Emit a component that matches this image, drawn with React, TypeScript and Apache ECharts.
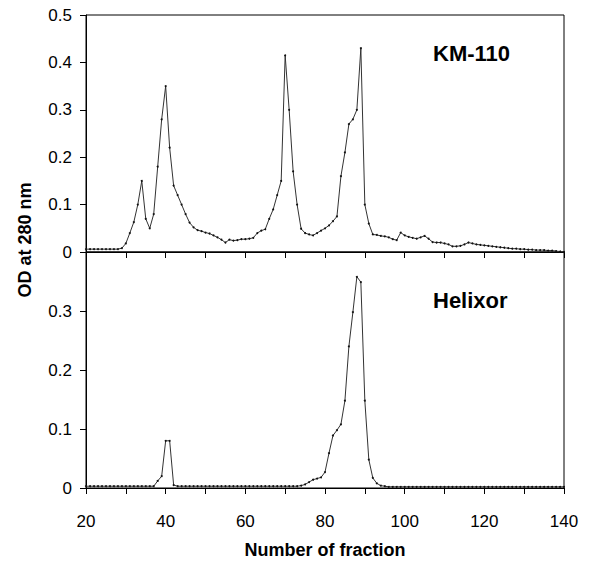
import React, { useEffect, useRef } from "react";
import * as echarts from "echarts";

const fractions = [
  20, 21, 22, 23, 24, 25, 26, 27, 28, 29, 30, 31, 32, 33, 34, 35, 36, 37, 38, 39,
  40, 41, 42, 43, 44, 45, 46, 47, 48, 49, 50, 51, 52, 53, 54, 55, 56, 57, 58, 59,
  60, 61, 62, 63, 64, 65, 66, 67, 68, 69, 70, 71, 72, 73, 74, 75, 76, 77, 78, 79,
  80, 81, 82, 83, 84, 85, 86, 87, 88, 89, 90, 91, 92, 93, 94, 95, 96, 97, 98, 99,
  100, 101, 102, 103, 104, 105, 106, 107, 108, 109, 110, 111, 112, 113, 114, 115, 116, 117, 118, 119,
  120, 121, 122, 123, 124, 125, 126, 127, 128, 129, 130, 131, 132, 133, 134, 135, 136, 137, 138, 139,
  140,
];

// KM-110 (top panel), OD at 280 nm for fractions 20..140
const km110 = [
  0.006, 0.006, 0.006, 0.006, 0.006, 0.006, 0.006, 0.006, 0.006, 0.008, // 20-29
  0.018, 0.04, 0.063, 0.1, 0.15, 0.07, 0.05, 0.08, 0.18, 0.28, // 30-39
  0.35, 0.22, 0.14, 0.12, 0.1, 0.08, 0.062, 0.052, 0.046, 0.044, // 40-49
  0.041, 0.039, 0.035, 0.031, 0.026, 0.02, 0.026, 0.024, 0.025, 0.027, // 50-59
  0.027, 0.028, 0.03, 0.04, 0.045, 0.048, 0.07, 0.09, 0.12, 0.15, // 60-69
  0.415, 0.3, 0.17, 0.1, 0.049, 0.04, 0.037, 0.035, 0.04, 0.045, // 70-79
  0.05, 0.056, 0.065, 0.075, 0.16, 0.21, 0.27, 0.28, 0.3, 0.43, // 80-89
  0.1, 0.06, 0.037, 0.036, 0.034, 0.033, 0.031, 0.027, 0.025, 0.041, // 90-99
  0.035, 0.032, 0.03, 0.028, 0.031, 0.034, 0.028, 0.021, 0.02, 0.02, // 100-109
  0.018, 0.016, 0.012, 0.012, 0.013, 0.016, 0.02, 0.018, 0.016, 0.015, // 110-119
  0.014, 0.013, 0.012, 0.011, 0.01, 0.009, 0.008, 0.007, 0.007, 0.006, // 120-129
  0.006, 0.005, 0.005, 0.004, 0.004, 0.004, 0.003, 0.003, 0.002, 0.001, // 130-139
  0.0, // 140
];

// Helixor (bottom panel), OD at 280 nm for fractions 20..140
const helixor = [
  0.003, 0.003, 0.003, 0.003, 0.003, 0.003, 0.003, 0.003, 0.003, 0.003, // 20-29
  0.003, 0.003, 0.003, 0.003, 0.003, 0.003, 0.003, 0.003, 0.012, 0.02, // 30-39
  0.08, 0.08, 0.005, 0.003, 0.003, 0.003, 0.003, 0.003, 0.003, 0.003, // 40-49
  0.003, 0.003, 0.003, 0.003, 0.003, 0.003, 0.003, 0.003, 0.003, 0.003, // 50-59
  0.003, 0.003, 0.003, 0.003, 0.003, 0.003, 0.003, 0.003, 0.003, 0.003, // 60-69
  0.003, 0.003, 0.003, 0.003, 0.004, 0.006, 0.01, 0.014, 0.016, 0.018, // 70-79
  0.027, 0.059, 0.089, 0.098, 0.108, 0.148, 0.24, 0.298, 0.358, 0.349, // 80-89
  0.148, 0.048, 0.017, 0.008, 0.004, 0.003, 0.002, 0.002, 0.002, 0.002, // 90-99
  0.002, 0.002, 0.002, 0.002, 0.002, 0.002, 0.002, 0.002, 0.002, 0.002, // 100-109
  0.002, 0.002, 0.002, 0.002, 0.002, 0.002, 0.002, 0.002, 0.002, 0.002, // 110-119
  0.002, 0.002, 0.002, 0.002, 0.002, 0.002, 0.002, 0.002, 0.002, 0.002, // 120-129
  0.002, 0.002, 0.002, 0.002, 0.002, 0.002, 0.002, 0.002, 0.002, 0.002, // 130-139
  0.002, // 140
];

const xTicks = { min: 20, max: 140, interval: 20 };
const topY = { min: 0, max: 0.5, interval: 0.1 };
const bottomY = { min: 0, max: 0.4, interval: 0.1 };

const FONT = "'Liberation Sans', Arial, Helvetica, sans-serif";

function fmt(v: number) {
  if (Math.abs(v) < 1e-9) return "0";
  return v.toFixed(1);
}

export default function App() {
  const ref = useRef<HTMLDivElement>(null);
  useEffect(() => {
    document.body.style.margin = "0";
    const chart = echarts.init(ref.current!, undefined, { renderer: "svg" });
    const black = "#000";
    const xAxisBase = {
      type: "value",
      min: xTicks.min,
      max: xTicks.max,
      interval: xTicks.interval,
      axisLine: { show: true, lineStyle: { color: black, width: 1 } },
      axisTick: { show: true, length: 6, lineStyle: { color: black, width: 1 } },
      minorTick: { show: true, splitNumber: 2, length: 6, lineStyle: { color: black, width: 1 } },
      splitLine: { show: false },
      minorSplitLine: { show: false },
    };
    const yAxisBase = {
      type: "value",
      axisLine: { show: true, lineStyle: { color: black, width: 1 } },
      axisTick: { show: true, length: 6, lineStyle: { color: black, width: 1 } },
      splitLine: { show: false },
    };
    const lineSeries = (name: string, vals: number[], idx: number) => ({
      type: "line",
      name,
      xAxisIndex: idx,
      yAxisIndex: idx,
      data: fractions.map((f, i) => [f, vals[i]]),
      showSymbol: true,
      symbol: "circle",
      symbolSize: 2,
      itemStyle: { color: "#111" },
      lineStyle: { color: "#333", width: 1 },
      emphasis: { disabled: true },
    });
    chart.setOption({
      animation: false,
      backgroundColor: "#fff",
      textStyle: { fontFamily: FONT },
      grid: [
        { left: 86, top: 15, width: 478, height: 237, show: true, borderColor: black, borderWidth: 1, backgroundColor: "transparent" },
        { left: 86, top: 252, width: 478, height: 236, show: true, borderColor: black, borderWidth: 1, backgroundColor: "transparent" },
      ],
      xAxis: [
        { ...xAxisBase, gridIndex: 0, axisLabel: { show: false } },
        {
          ...xAxisBase,
          gridIndex: 1,
          axisLabel: { show: true, color: black, fontSize: 17, fontFamily: FONT, margin: 25 },
          name: "Number of fraction",
          nameLocation: "middle",
          nameGap: 53,
          nameTextStyle: { color: black, fontSize: 18, fontWeight: "bold", fontFamily: FONT },
        },
      ],
      yAxis: [
        {
          ...yAxisBase,
          gridIndex: 0,
          min: topY.min,
          max: topY.max,
          interval: topY.interval,
          axisLabel: { color: black, fontSize: 17, fontFamily: FONT, margin: 14, formatter: (v: number) => fmt(v) },
        },
        {
          ...yAxisBase,
          gridIndex: 1,
          min: bottomY.min,
          max: bottomY.max,
          interval: bottomY.interval,
          axisLabel: {
            color: black,
            fontSize: 17,
            fontFamily: FONT,
            margin: 14,
            formatter: (v: number) => (v > bottomY.max - 1e-6 ? "" : fmt(v)),
          },
        },
      ],
      graphic: [
        {
          type: "text",
          x: 25,
          y: 240,
          rotation: Math.PI / 2,
          style: {
            text: "OD at 280 nm",
            fill: black,
            font: `bold 18px ${FONT}`,
            align: "center",
            verticalAlign: "middle",
          },
        },
        {
          type: "text",
          x: 433,
          y: 53,
          style: { text: "KM-110", fill: black, font: `bold 22px ${FONT}`, align: "left", verticalAlign: "middle" },
        },
        {
          type: "text",
          x: 433,
          y: 300,
          style: { text: "Helixor", fill: black, font: `bold 22px ${FONT}`, align: "left", verticalAlign: "middle" },
        },
      ],
      series: [lineSeries("KM-110", km110, 0), lineSeries("Helixor", helixor, 1)],
    });
    return () => chart.dispose();
  }, []);
  return <div ref={ref} style={{ width: 592, height: 576 }} />;
}
